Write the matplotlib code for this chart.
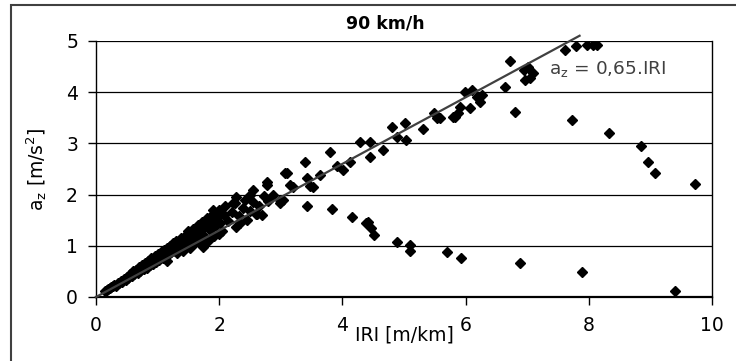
import matplotlib
matplotlib.use('Agg')
import matplotlib.pyplot as plt
from matplotlib.patches import Rectangle

plt.rcParams['font.family'] = ['DejaVu Sans']
plt.rcParams['mathtext.default'] = 'regular'

# dense cluster near the origin
band_iri = [0.15, 0.18, 0.2, 0.22, 0.25, 0.28, 0.3, 0.32, 0.35, 0.38, 0.4, 0.42, 0.45, 0.48,
            0.5, 0.52, 0.55, 0.58, 0.6, 0.62, 0.65, 0.68, 0.7, 0.72, 0.75, 0.78, 0.8, 0.82,
            0.85, 0.88, 0.9, 0.92, 0.95, 0.98, 1.0, 1.02, 1.05, 1.08, 1.1, 1.12, 1.15, 1.15,
            1.18, 1.2, 1.22, 1.25, 1.28, 1.3, 1.32, 1.35, 1.38, 1.4, 1.42, 1.45, 1.48, 1.5,
            1.52, 1.55, 1.58, 1.6, 1.62, 1.65, 1.68, 1.7, 1.72, 1.74, 1.76, 1.78, 1.8, 1.82,
            1.85, 1.88, 1.9, 1.92, 1.95, 1.98, 2.0, 2.01, 2.05, 2.08, 2.1, 2.15, 2.2, 2.25,
            2.28, 2.28, 2.32, 2.38, 2.42, 2.45, 2.5, 2.55, 2.55, 2.6, 2.65, 2.69, 2.72, 2.77,
            2.77, 2.8, 1.9, 2.23, 2.34, 2.5, 2.61, 1.6, 1.4, 2.0]
band_az = [0.12, 0.14, 0.16, 0.17, 0.2, 0.21, 0.24, 0.22, 0.28, 0.27, 0.32, 0.3, 0.36, 0.34,
           0.4, 0.37, 0.44, 0.41, 0.5, 0.44, 0.53, 0.47, 0.58, 0.5, 0.62, 0.54, 0.66, 0.57,
           0.7, 0.62, 0.76, 0.65, 0.8, 0.69, 0.84, 0.72, 0.88, 0.76, 0.92, 0.79, 0.96, 0.7,
           0.84, 1.0, 0.88, 1.05, 0.9, 1.1, 0.85, 0.98, 1.15, 1.02, 0.9, 1.2, 1.06, 1.28,
           0.95, 1.14, 1.32, 1.05, 1.22, 1.4, 1.12, 1.3, 1.46, 0.98, 1.2, 1.38, 1.55, 1.1,
           1.3, 1.48, 1.62, 1.2, 1.4, 1.56, 1.7, 1.44, 1.28, 1.6, 1.78, 1.48, 1.66, 1.84,
           1.37, 1.96, 1.58, 1.74, 1.9, 1.5, 1.68, 2.09, 1.86, 1.62, 1.78, 1.6, 1.98, 2.25,
           2.19, 1.88, 1.70, 1.83, 1.44, 1.99, 1.63, 1.18, 1.08, 1.24]

# points following the trend line further out
upper_iri = [2.88, 2.99, 2.99, 3.04, 3.07, 3.10, 3.15, 3.20, 3.39, 3.42, 3.47, 3.53, 3.64,
             3.80, 3.91, 4.01, 4.12, 4.29, 4.45, 4.45, 4.66, 4.80, 4.88, 5.02, 5.04, 5.31,
             5.48, 5.53, 5.58, 5.80, 5.83, 5.88, 5.91, 5.99, 6.07, 6.10, 6.18, 6.23, 6.26,
             6.64, 6.72, 6.94, 6.96, 7.02, 7.05, 7.10, 7.61, 7.80, 7.97, 8.07, 8.13]
upper_az = [1.99, 1.83, 1.89, 1.89, 2.42, 2.42, 2.19, 2.15, 2.64, 2.32, 2.17, 2.15, 2.38,
            2.84, 2.55, 2.48, 2.64, 3.03, 3.03, 2.74, 2.87, 3.33, 3.13, 3.39, 3.07, 3.29,
            3.59, 3.49, 3.49, 3.52, 3.52, 3.59, 3.72, 4.01, 3.69, 4.04, 3.91, 3.81, 3.95,
            4.11, 4.60, 4.43, 4.24, 4.50, 4.27, 4.37, 4.82, 4.90, 4.93, 4.93, 4.92]

# scattered points below the line
off_iri = [3.42, 3.83, 4.15, 4.39, 4.42, 4.47, 4.52, 4.88, 5.09, 5.09, 5.69, 5.93, 6.88,
           7.89, 9.40, 6.80, 7.72, 8.32, 8.85, 8.96, 9.07, 9.72]
off_az = [1.78, 1.71, 1.57, 1.44, 1.47, 1.34, 1.21, 1.08, 1.02, 0.90, 0.87, 0.77, 0.67,
          0.49, 0.12, 3.62, 3.46, 3.20, 2.94, 2.64, 2.42, 2.21]

slope = 0.65
fit_iri = [0.0, 7.85]

fig = plt.figure(figsize=(7.36, 3.61), dpi=100)
ax = fig.add_axes([96 / 736, 1 - 297 / 361, 616 / 736, 256 / 361])

for xs, ys in [(band_iri, band_az), (upper_iri, upper_az), (off_iri, off_az)]:
    ax.plot(xs, ys, linestyle='none', marker='D', markersize=5.5, color='black', zorder=3)

ax.plot(fit_iri, [slope * v for v in fit_iri], color='#404040', lw=1.6, zorder=4, clip_on=False)
ax.text(7.35, 4.45, 'a$_z$ = 0,65.IRI', fontsize=13.3, color='#404040', va='center')

ax.set_xlim(0, 10)
ax.set_ylim(0, 5)
ax.set_xticks([0, 2, 4, 6, 8, 10])
ax.set_yticks([0, 1, 2, 3, 4, 5])
ax.yaxis.grid(True, color='black', lw=0.9)
ax.set_axisbelow(True)
ax.tick_params(direction='out', length=6, width=1, labelsize=13.5)
ax.tick_params(axis='x', pad=8)
ax.tick_params(axis='y', pad=7)
ax.spines['top'].set_visible(False)
ax.spines['bottom'].set_linewidth(1.6)
ax.spines['left'].set_linewidth(1.0)
ax.spines['right'].set_linewidth(1.0)

ax.set_xlabel('IRI [m/km]', fontsize=13.5, labelpad=-7)
ax.set_ylabel('a$_z$ [m/s$^2$]', fontsize=13.5, labelpad=12)
fig.text(385 / 736, 1 - 24 / 361, '90 km/h', fontsize=12.5, fontweight='bold', ha='center', va='center')

# outer frame
fig.patches.append(Rectangle((11 / 736, -0.1), 1.1, 1.1 - 5 / 361, transform=fig.transFigure,
                             fill=False, edgecolor='#404040', lw=1.5))

fig.savefig('out.png', dpi=100)
